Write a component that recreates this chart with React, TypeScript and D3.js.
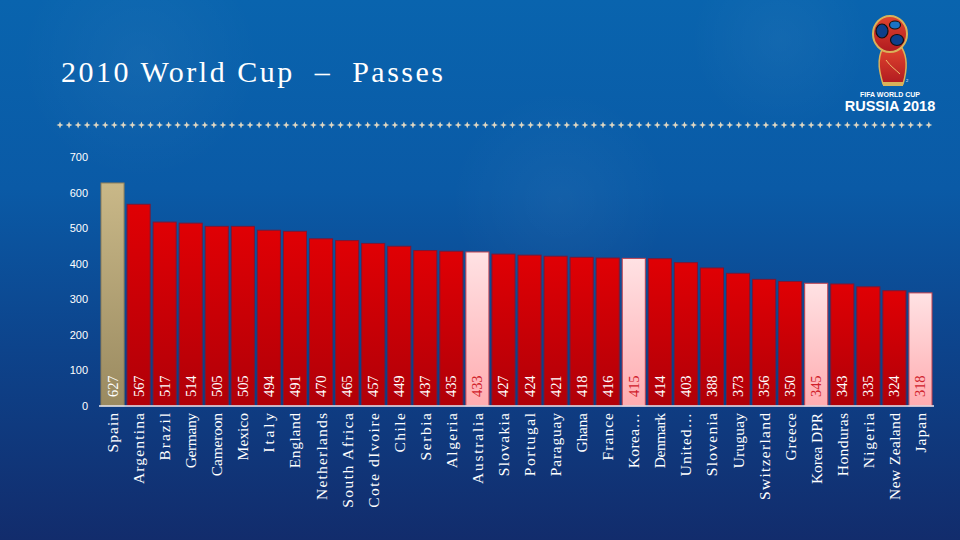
import { useMemo } from "react"
import * as d3 from "d3"

const countries = [
  "Spain", "Argentina", "Brazil", "Germany", "Cameroon", "Mexico", "Italy", "England",
  "Netherlands", "South Africa", "Cote dIvoire", "Chile", "Serbia", "Algeria", "Australia",
  "Slovakia", "Portugal", "Paraguay", "Ghana", "France", "Korea…", "Denmark", "United…",
  "Slovenia", "Uruguay", "Switzerland", "Greece", "Korea DPR", "Honduras", "Nigeria",
  "New Zealand", "Japan",
]
const passes = [
  627, 567, 517, 514, 505, 505, 494, 491, 470, 465, 457, 449, 437, 435, 433, 427,
  424, 421, 418, 416, 415, 414, 403, 388, 373, 356, 350, 345, 343, 335, 324, 318,
]
const leader = "Spain"
const asianTeams = ["Australia", "Korea…", "Korea DPR", "Japan"]
const yTicks = [0, 100, 200, 300, 400, 500, 600, 700]
const title = "2010 World Cup  –  Passes"

const W = 960
const H = 540
const SERIF = "'Liberation Serif', 'DejaVu Serif', serif"
const SANS = "'Liberation Sans', Arial, sans-serif"

export default function App() {
  const x = useMemo(
    () => d3.scaleBand<string>().domain(countries).range([99.5, 933.5]).paddingInner(0.115).paddingOuter(0.0575),
    []
  )
  const y = useMemo(() => d3.scaleLinear().domain([0, 700]).range([406, 157]), [])
  const stars = d3.range(60, 930, 9.05)

  const kind = (c: string) => (c === leader ? "gold" : asianTeams.includes(c) ? "pink" : "red")

  return (
    <svg width={W} height={H} style={{ position: "absolute", left: 0, top: 0 }}>
      <defs>
        <linearGradient id="bg" x1="0" y1="0" x2="0" y2="1">
          <stop offset="0%" stopColor="#0964ae" />
          <stop offset="35%" stopColor="#0a5aa6" />
          <stop offset="65%" stopColor="#0d438b" />
          <stop offset="100%" stopColor="#122c6c" />
        </linearGradient>
        <linearGradient id="red" x1="0" y1="0" x2="0" y2="1">
          <stop offset="0%" stopColor="#e00004" />
          <stop offset="100%" stopColor="#b00008" />
        </linearGradient>
        <linearGradient id="pink" x1="0" y1="0" x2="0" y2="1">
          <stop offset="0%" stopColor="#ffe2e4" />
          <stop offset="100%" stopColor="#ffacb0" />
        </linearGradient>
        <linearGradient id="gold" x1="0" y1="0" x2="0" y2="1">
          <stop offset="0%" stopColor="#c9b888" />
          <stop offset="100%" stopColor="#9a8a60" />
        </linearGradient>
        <radialGradient id="swirl" cx="0.5" cy="0.5" r="0.5">
          <stop offset="0%" stopColor="#ffffff" stopOpacity="0.04" />
          <stop offset="100%" stopColor="#ffffff" stopOpacity="0" />
        </radialGradient>
        <linearGradient id="cup" x1="0" y1="0" x2="0" y2="1">
          <stop offset="0%" stopColor="#e0452e" />
          <stop offset="100%" stopColor="#b01a20" />
        </linearGradient>
      </defs>

      <rect width={W} height={H} fill="url(#bg)" />
      <circle cx={140} cy={60} r={120} fill="url(#swirl)" />
      <circle cx={560} cy={200} r={110} fill="url(#swirl)" />
      <circle cx={780} cy={40} r={90} fill="url(#swirl)" />

      {/* title */}
      <text
        x={61}
        y={82}
        fill="#ffffff"
        fontFamily={SERIF}
        fontSize={30}
        xmlSpace="preserve"
        textLength={382}
        lengthAdjust="spacing"
      >
        {title}
      </text>

      {/* decorative star row */}
      {stars.map((sx, i) => (
        <path
          key={i}
          d={`M${sx},${121.5} L${sx + 1},${124} L${sx + 3.5},${125} L${sx + 1},${126} L${sx},${128.5} L${sx - 1},${126} L${sx - 3.5},${125} L${sx - 1},${124} Z`}
          fill="#ddd6c2"
        />
      ))}

      {/* logo */}
      <g>
        <path d="M883,48 C876,60 880,74 883,84 L903,84 C906,74 909,60 902,48 Z" fill="url(#cup)" stroke="#d9b25a" strokeWidth={1.5} />
        <path d="M886,60 C890,66 896,70 900,74" fill="none" stroke="#f0c070" strokeWidth={1} />
        <ellipse cx={890} cy={34} rx={17} ry={18} fill="url(#cup)" stroke="#d9b25a" strokeWidth={2} />
        <ellipse cx={882} cy={31} rx={6} ry={7} fill="#0d3f8a" stroke="#111" strokeWidth={1.2} />
        <ellipse cx={895} cy={25} rx={5.5} ry={4} fill="#1a73c6" stroke="#111" strokeWidth={1.2} />
        <ellipse cx={897} cy={40} rx={6.5} ry={5.5} fill="#0d3f8a" stroke="#111" strokeWidth={1.2} />
        <rect x={883} y={82} width={20} height={4} fill="#d9b25a" />
        <text x={906} y={82} fill="#fff" fontFamily={SANS} fontSize={4}>2</text>
        <text x={890} y={97} textAnchor="middle" fill="#fff" fontFamily={SANS} fontWeight="bold" fontSize={7}>
          FIFA WORLD CUP
        </text>
        <text x={890} y={111} textAnchor="middle" fill="#fff" fontFamily={SANS} fontWeight="bold" fontSize={14.5}>
          RUSSIA 2018
        </text>
      </g>

      {/* y ticks */}
      {yTicks.map((t) => (
        <text key={t} x={88} y={y(t)} textAnchor="end" dominantBaseline="central" fill="#ffffff" fontFamily={SANS} fontSize={11}>
          {t}
        </text>
      ))}

      {/* bars */}
      {countries.map((c, i) => {
        const k = kind(c)
        return (
          <rect
            key={c}
            x={x(c) || 0}
            y={y(passes[i])}
            width={x.bandwidth()}
            height={y(0) - y(passes[i])}
            fill={`url(#${k})`}
            stroke={k === "gold" ? "#8c7c58" : k === "pink" ? "#c0404e" : "#7c1836"}
            strokeWidth={1}
          />
        )
      })}

      {/* axis baseline */}
      <line x1={99} x2={934} y1={y(0)} y2={y(0)} stroke="#e8e8f0" strokeWidth={1.5} />

      {/* value labels */}
      {countries.map((c, i) => {
        const cx = (x(c) || 0) + x.bandwidth() / 2
        const s = String(passes[i])
        return (
          <text
            key={c}
            transform={`translate(${cx},397) rotate(-90)`}
            dominantBaseline="central"
            fill={kind(c) === "pink" ? "#d0202a" : "#ffffff"}
            fontFamily={SERIF}
            fontSize={14.5}
            textLength={s.length * 7.2}
            lengthAdjust="spacing"
          >
            {s}
          </text>
        )
      })}

      {/* category labels */}
      {countries.map((c) => {
        const cx = (x(c) || 0) + x.bandwidth() / 2
        const n = c.endsWith("…") ? c.length + 1 : c.length
        return (
          <text
            key={c}
            transform={`translate(${cx},413) rotate(-90)`}
            textAnchor="end"
            dominantBaseline="central"
            fill="#ffffff"
            fontFamily={SERIF}
            fontSize={15.5}
            textLength={n * 7.9}
            lengthAdjust="spacing"
          >
            {c}
          </text>
        )
      })}
    </svg>
  )
}
